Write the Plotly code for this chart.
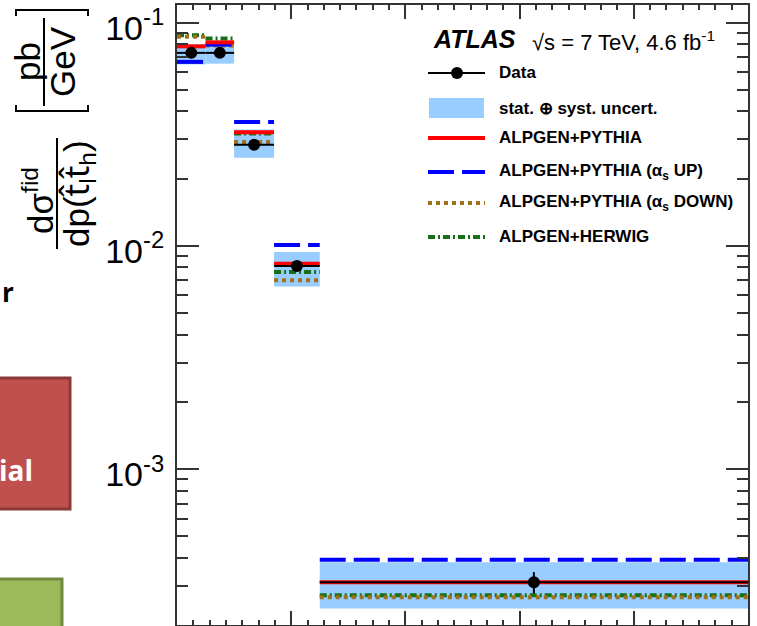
import plotly.graph_objects as go

# ---------------- data ----------------
bin_edges = [0, 50, 100, 170, 250, 1000]
data_vals = [0.0732, 0.0732, 0.0284, 0.00812, 3.11e-4]
data_err = [0.0012, 0.0012, 0.0005, 0.00015, 3.4e-5]
band_lo = [0.0650, 0.0655, 0.0248, 0.00657, 2.37e-4]
band_hi = [0.0800, 0.0816, 0.0332, 0.00938, 3.82e-4]
alpgen_pythia = [0.0783, 0.0816, 0.0323, 0.00832, 3.11e-4]
alpgen_pythia_up = [0.0667, 0.0797, 0.0359, 0.01008, 3.92e-4]
alpgen_pythia_down = [0.0865, 0.0790, 0.0292, 0.00701, 2.66e-4]
alpgen_herwig = [0.0877, 0.0848, 0.0319, 0.00764, 2.72e-4]

ytick_vals = [1e-3, 1e-2, 1e-1]
ytick_text = ["10<sup>-3</sup>", "10<sup>-2</sup>", "10<sup>-1</sup>"]
legend_labels = ["Data", "stat. \u2295 syst. uncert.", "ALPGEN+PYTHIA",
                 "ALPGEN+PYTHIA (\u03b1<sub>s</sub> UP)",
                 "ALPGEN+PYTHIA (\u03b1<sub>s</sub> DOWN)", "ALPGEN+HERWIG"]

# ---------------- helpers ----------------
centers = [(bin_edges[i] + bin_edges[i + 1]) / 2 for i in range(len(data_vals))]
halfw = [(bin_edges[i + 1] - bin_edges[i]) / 2 for i in range(len(data_vals))]
widths = [2 * h for h in halfw]


def seg(vals):
    xs, ys = [], []
    for i, v in enumerate(vals):
        xs += [bin_edges[i], bin_edges[i + 1], None]
        ys += [v, v, None]
    return xs, ys


L, R, T, B = 177, 748, 5, 625
W, H = 757, 626


def px(x):
    return (x - L) / (R - L)


def py(y):
    return (B - y) / (B - T)


FONT = "Liberation Sans, Arial, sans-serif"
RED, BLUE, BROWN, GREEN, BAND = "#FF0000", "#0000FF", "#A3701A", "#167016", "#99CCFF"
DASH_UP = "26px,8px"
DASH_DOWN = "4px,4px"
DASH_HW = "7px,3px,2px,3px"

fig = go.Figure()

# uncertainty band
fig.add_trace(go.Bar(x=centers, width=widths, base=band_lo,
                     y=[h - l for h, l in zip(band_hi, band_lo)],
                     marker=dict(color=BAND, line=dict(width=0)),
                     showlegend=False, hoverinfo="skip"))

for vals, col, dash in [(alpgen_herwig, GREEN, DASH_HW),
                        (alpgen_pythia_down, BROWN, DASH_DOWN),
                        (alpgen_pythia_up, BLUE, DASH_UP),
                        (alpgen_pythia, RED, "solid")]:
    xs, ys = seg(vals)
    fig.add_trace(go.Scatter(x=xs, y=ys, mode="lines",
                             line=dict(color=col, width=4, dash=dash),
                             connectgaps=False, showlegend=False))

fig.add_trace(go.Scatter(x=centers, y=data_vals, mode="markers",
                         marker=dict(color="black", size=12, symbol="circle"),
                         error_x=dict(type="data", array=halfw, color="black", thickness=2, width=0),
                         error_y=dict(type="data", array=data_err, color="black", thickness=2, width=0),
                         showlegend=False))

minor_y = [k * 10 ** e for e in (-4, -3, -2, -1) for k in range(2, 10)]
minor_y = [v for v in minor_y if 2e-4 <= v <= 0.12]

fig.update_layout(
    width=W, height=H,
    margin=dict(l=L, r=W - R, t=T, b=H - B, pad=0, autoexpand=False),
    paper_bgcolor="white", plot_bgcolor="white",
    showlegend=False, barmode="overlay",
    font=dict(family=FONT, color="black"),
)
fig.update_xaxes(range=[0, 1000], showgrid=False, zeroline=False, automargin=False,
                 showline=True, linecolor="#333", linewidth=2, mirror="ticks",
                 ticks="inside", tickmode="linear", tick0=0, dtick=200, ticklen=14,
                 tickcolor="#333", tickwidth=1.5, showticklabels=False,
                 minor=dict(ticks="inside", tick0=0, dtick=200 / 7, ticklen=5,
                            tickcolor="#333", tickwidth=1.5, showgrid=False))
fig.update_yaxes(type="log", range=[-3.699, -0.921], showgrid=False, zeroline=False,
                 automargin=False, ticklabeloverflow="allow",
                 showline=True, linecolor="#333", linewidth=2, mirror="ticks",
                 ticks="inside", tickmode="array", tickvals=ytick_vals, ticktext=ytick_text,
                 ticklen=22, tickcolor="#333", tickwidth=1.5,
                 tickfont=dict(size=34, family=FONT, color="black"), ticklabelstandoff=4,
                 ticklabelshift=5,
                 minor=dict(ticks="inside", tickmode="array", tickvals=minor_y, ticklen=11,
                            tickcolor="#333", tickwidth=1.5, showgrid=False))

shapes = []
ann = []

# ---------------- legend (manual, ROOT-like) ----------------
leg_y = [73, 108, 138, 172, 203, 237]
x0, x1, xt = 428, 485, 497
shapes.append(dict(type="line", xref="paper", yref="paper", x0=px(x0), x1=px(x1),
                   y0=py(leg_y[0]), y1=py(leg_y[0]), line=dict(color="black", width=2)))
shapes.append(dict(type="circle", xref="paper", yref="paper", x0=px(451), x1=px(463),
                   y0=py(leg_y[0] + 6), y1=py(leg_y[0] - 6), fillcolor="black",
                   line=dict(color="black", width=0)))
shapes.append(dict(type="rect", xref="paper", yref="paper", x0=px(429), x1=px(484),
                   y0=py(leg_y[1] + 10), y1=py(leg_y[1] - 10), fillcolor=BAND,
                   line=dict(width=0)))
for yy, col, dash in [(leg_y[2], RED, "solid"), (leg_y[3], BLUE, DASH_UP),
                      (leg_y[4], BROWN, DASH_DOWN), (leg_y[5], GREEN, DASH_HW)]:
    shapes.append(dict(type="line", xref="paper", yref="paper", x0=px(x0), x1=px(x1),
                       y0=py(yy), y1=py(yy), line=dict(color=col, width=4, dash=dash)))
for yy, lab in zip(leg_y, legend_labels):
    ann.append(dict(text="<b>" + lab + "</b>", xref="paper", yref="paper", x=px(xt), y=py(yy),
                    xanchor="left", yanchor="middle", showarrow=False,
                    font=dict(size=17, family=FONT, color="black")))

ann.append(dict(text="<b><i>ATLAS</i></b>", xref="paper", yref="paper", x=px(431), y=py(39),
                xanchor="left", yanchor="middle", showarrow=False,
                font=dict(size=25, family=FONT, color="black")))
ann.append(dict(text="\u221as = 7 TeV, 4.6 fb<sup>-1</sup>", xref="paper", yref="paper",
                x=px(530), y=py(41), xanchor="left", yanchor="middle", showarrow=False,
                font=dict(size=22, family=FONT, color="black")))

# ---------------- y-axis title (rotated fraction pieces) ----------------
TF = 35
HAT = '<span style="font-family:Noto Sans">t\u0302</span>'
ann.append(dict(text="d\u03c3<sup>fid</sup>", xref="paper", yref="paper", x=px(38), y=py(201),
                textangle=-90, xanchor="center", yanchor="middle", showarrow=False,
                font=dict(size=TF, family=FONT, color="black")))
ann.append(dict(text="dp(" + HAT + "<sub>l</sub>" + HAT + "<sub>h</sub>)", xref="paper",
                yref="paper", x=px(77), y=py(194), textangle=-90, xanchor="center",
                yanchor="middle", showarrow=False,
                font=dict(size=TF, family=FONT, color="black")))
shapes.append(dict(type="line", xref="paper", yref="paper", x0=px(57), x1=px(57),
                   y0=py(138), y1=py(249), line=dict(color="black", width=2)))
ann.append(dict(text="pb", xref="paper", yref="paper", x=px(28), y=py(62),
                textangle=-90, xanchor="center", yanchor="middle", showarrow=False,
                font=dict(size=TF, family=FONT, color="black")))
ann.append(dict(text="GeV", xref="paper", yref="paper", x=px(63), y=py(62),
                textangle=-90, xanchor="center", yanchor="middle", showarrow=False,
                font=dict(size=TF, family=FONT, color="black")))
shapes.append(dict(type="line", xref="paper", yref="paper", x0=px(44), x1=px(44),
                   y0=py(18), y1=py(106), line=dict(color="black", width=2)))
# brackets
shapes.append(dict(type="path", xref="paper", yref="paper",
                   path=f"M {px(16)},{py(105)} L {px(16)},{py(111)} L {px(88)},{py(111)} L {px(88)},{py(105)}",
                   line=dict(color="black", width=2)))
shapes.append(dict(type="path", xref="paper", yref="paper",
                   path=f"M {px(16)},{py(16)} L {px(16)},{py(10)} L {px(88)},{py(10)} L {px(88)},{py(16)}",
                   line=dict(color="black", width=2)))

# ---------------- slide background fragments on the left ----------------
shapes.append(dict(type="rect", xref="paper", yref="paper", x0=px(-5), x1=px(70),
                   y0=py(509), y1=py(378), fillcolor="#C0504D",
                   line=dict(color="#8C3836", width=3)))
shapes.append(dict(type="rect", xref="paper", yref="paper", x0=px(-5), x1=px(62),
                   y0=py(640), y1=py(579), fillcolor="#9BBB59",
                   line=dict(color="#71893F", width=3)))
ann.append(dict(text="<b>ial</b>", xref="paper", yref="paper", x=px(35), y=py(470),
                xanchor="right", yanchor="middle", showarrow=False,
                font=dict(size=28, family="Open Sans, sans-serif", color="white")))
ann.append(dict(text="<b>r</b>", xref="paper", yref="paper", x=px(0), y=py(292),
                xanchor="left", yanchor="middle", showarrow=False,
                font=dict(size=26, family="Open Sans, sans-serif", color="black")))

fig.update_layout(shapes=shapes, annotations=ann)
fig.write_html("out.html", config={"displayModeBar": False},
               post_script="document.body.style.margin='0px';document.body.style.overflow='hidden';")
